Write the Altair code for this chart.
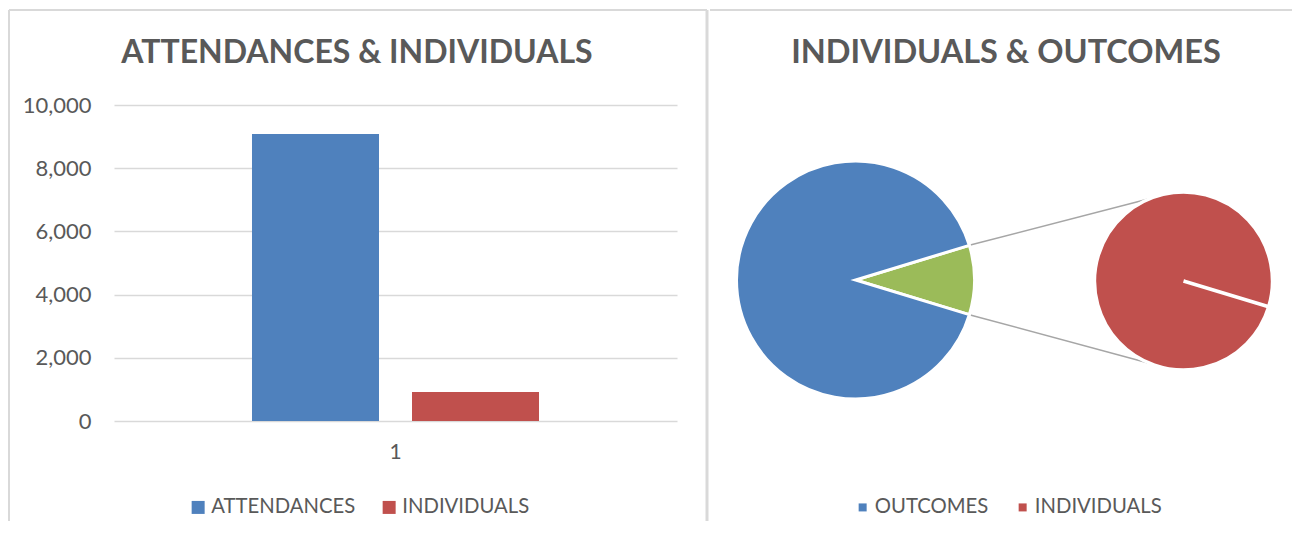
import math
import altair as alt
import pandas as pd

# ---------------- data ----------------
BAR_GROUP = ["1", "1"]
BAR_SERIES = ["ATTENDANCES", "INDIVIDUALS"]
BAR_VALUES = [9080, 920]
Y_TICKS = [0, 2000, 4000, 6000, 8000, 10000]

PIE_MAIN_CATS = ["OUTCOMES"]
PIE_MAIN_VALUES = [8860]
PIE_SECOND_CATS = ["INDIVIDUALS"]
PIE_SECOND_VALUES = [920]
OTHER_LABEL = "Other"
LEGEND_RIGHT = ["OUTCOMES", "INDIVIDUALS"]

TITLE_LEFT = "ATTENDANCES & INDIVIDUALS"
TITLE_RIGHT = "INDIVIDUALS & OUTCOMES"

# ---------------- style ----------------
BLUE, RED, GREEN = "#4F81BD", "#C0504D", "#9BBB59"
TEXT = "#595959"
GRID = "#D9D9D9"
BORDER = "#D9D9D9"
CONNECT = "#A6A6A6"
FONT = "Lato"
LEG_FS = 20.3

L_W, L_H = 563, 316
R_W, R_H = 560, 316
MX, MY, MR = 146.5, 175, 119     # main pie centre / radius (panel px)
SX, SY, SR = 474.5, 176, 89      # secondary pie
END_ANG = math.radians(22)
BOTTOM = 416
LEG_Y = 392

one = pd.DataFrame({"k": [0]})


def hrule(x1, x2, y, w, color):
    return alt.Chart(one).mark_rule(color=color, strokeWidth=w).encode(
        x=alt.value(x1), x2=alt.value(x2), y=alt.value(y))


def vrule(x, y1, y2, w, color):
    return alt.Chart(one).mark_rule(color=color, strokeWidth=w).encode(
        x=alt.value(x), y=alt.value(y1), y2=alt.value(y2))


def title_text(txt, x, size):
    return alt.Chart(pd.DataFrame({"t": [txt]})).mark_text(
        font=FONT, fontSize=size, fontWeight="bold", color=TEXT,
        align="center", baseline="alphabetic").encode(
        x=alt.value(x), y=alt.value(-42), text="t:N")


# ---------------- left panel ----------------
bars = pd.DataFrame({"group": BAR_GROUP, "series": BAR_SERIES, "value": BAR_VALUES})

bar_layer = alt.Chart(bars).mark_bar().encode(
    x=alt.X("group:N", title=None,
            scale=alt.Scale(paddingInner=0, paddingOuter=0.4808),
            axis=alt.Axis(labelAngle=0, domain=False, ticks=False, tickSize=0,
                          labelPadding=20, labelFontSize=21, labelColor=TEXT,
                          labelFont=FONT, grid=False)),
    xOffset=alt.XOffset("series:N", sort=BAR_SERIES,
                        scale=alt.Scale(paddingInner=0.20625, paddingOuter=0)),
    y=alt.Y("value:Q", title=None, scale=alt.Scale(domain=[0, 10000]),
            axis=alt.Axis(values=Y_TICKS, format=",.0f", domain=False, ticks=False,
                          tickSize=0, labelPadding=23, labelFontSize=22,
                          labelColor=TEXT, labelFont=FONT, gridColor=GRID,
                          gridWidth=1.5)),
    color=alt.Color("series:N", sort=BAR_SERIES,
                    scale=alt.Scale(domain=BAR_SERIES, range=[BLUE, RED]),
                    legend=alt.Legend(orient="none", legendX=74, legendY=LEG_Y,
                                      direction="horizontal", title=None,
                                      symbolType="square", symbolSize=169,
                                      symbolStrokeWidth=0, labelFontSize=LEG_FS,
                                      labelColor=TEXT, labelFont=FONT,
                                      labelOffset=3, columnPadding=23,
                                      padding=0)),
)

left = alt.layer(
    bar_layer,
    title_text(TITLE_LEFT, 243, 32),
    hrule(-105, 593, -95, 2, BORDER),
    vrule(-105, -95, BOTTOM, 2, BORDER),
    vrule(593, -95, BOTTOM, 3, BORDER),
).properties(width=L_W, height=L_H)

# ---------------- right panel ----------------
other_val = sum(PIE_SECOND_VALUES)
main_df = pd.DataFrame({
    "cat": [OTHER_LABEL] + PIE_MAIN_CATS,
    "value": [other_val] + PIE_MAIN_VALUES,
    "ord": list(range(1 + len(PIE_MAIN_CATS))),
})
sec_df = pd.DataFrame({"cat": PIE_SECOND_CATS, "value": PIE_SECOND_VALUES})

frac = other_val / (other_val + sum(PIE_MAIN_VALUES))
half = frac * math.pi
start_main = math.pi / 2 - half
start_sec = math.pi / 2 + half

color_r = alt.Color(
    "cat:N",
    scale=alt.Scale(domain=LEGEND_RIGHT + [OTHER_LABEL], range=[BLUE, RED, GREEN]),
    legend=alt.Legend(values=LEGEND_RIGHT, orient="none", legendX=143.5,
                      legendY=LEG_Y, direction="horizontal", title=None,
                      symbolType="square", symbolSize=64, symbolStrokeWidth=0,
                      labelFontSize=LEG_FS, labelColor=TEXT, labelFont=FONT,
                      labelOffset=2, columnPadding=24, padding=0))

main_pie = alt.Chart(main_df).mark_arc(radius=MR, stroke="white", strokeWidth=3).encode(
    theta=alt.Theta("value:Q", stack=True,
                    scale=alt.Scale(range=[start_main, start_main + 2 * math.pi])),
    order=alt.Order("ord:Q"),
    color=color_r,
    x=alt.value(MX), y=alt.value(MY),
)

sec_pie = alt.Chart(sec_df).mark_arc(radius=SR, stroke="white", strokeWidth=3.5).encode(
    theta=alt.Theta("value:Q", stack=True,
                    scale=alt.Scale(range=[start_sec, start_sec + 2 * math.pi - 0.004])),
    color=color_r,
    x=alt.value(SX), y=alt.value(SY),
)

cx = MX + MR * math.cos(half)
conn_df = pd.DataFrame({
    "x": [cx, cx],
    "y": [MY - MR * math.sin(half), MY + MR * math.sin(half)],
    "x2": [SX - SR * math.sin(END_ANG)] * 2,
    "y2": [SY - SR * math.cos(END_ANG), SY + SR * math.cos(END_ANG)],
})
connectors = alt.Chart(conn_df).mark_rule(color=CONNECT, strokeWidth=1.5).encode(
    x=alt.X("x:Q", scale=None, axis=None),
    y=alt.Y("y:Q", scale=None, axis=None),
    x2="x2:Q", y2="y2:Q",
)

right = alt.layer(
    connectors, main_pie, sec_pie,
    title_text(TITLE_RIGHT, 297, 32.5),
    hrule(1, 583, -95, 2, BORDER),
).resolve_scale(theta="independent").properties(width=R_W, height=R_H)

chart = alt.hconcat(left, right, spacing=0).resolve_scale(
    color="independent").properties(padding=0, background="white").configure_view(
    strokeWidth=0)

chart.save("out.html", embed_options={"renderer": "svg", "actions": False})
